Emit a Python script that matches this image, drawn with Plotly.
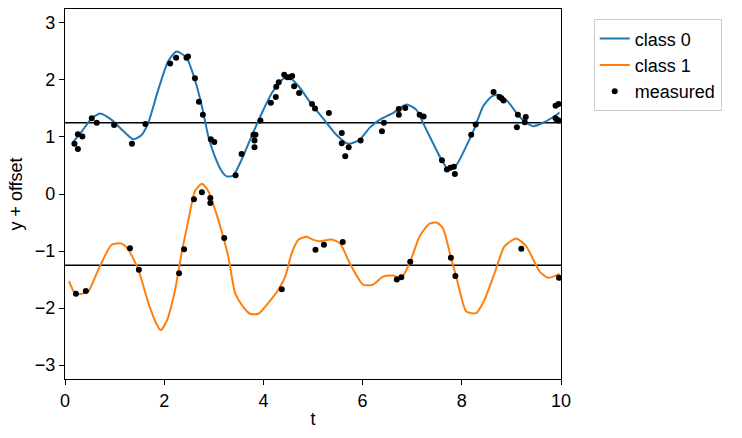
import plotly.graph_objects as go

# ---- data (raw values, offsets applied when plotting) ----
OFFSETS = [1.25, -1.25]
CLASS_NAMES = ["class 0", "class 1"]
COLORS = ["#1f77b4", "#ff7f0e"]

t_curve0 = [0.17, 0.34, 0.54, 0.71, 0.94, 1.18, 1.38, 1.55, 1.68, 1.88, 2.08, 2.25, 2.45, 2.62,
            2.76, 2.89, 3.02, 3.16, 3.26, 3.39, 3.56, 3.76, 3.97, 4.17, 4.37, 4.50, 4.71, 4.95,
            5.20, 5.47, 5.71, 5.94, 6.14, 6.34, 6.61, 6.88, 7.08, 7.25, 7.42, 7.59, 7.72, 7.89,
            8.09, 8.26, 8.43, 8.60, 8.73, 8.93, 9.13, 9.30, 9.44, 9.64, 9.91, 9.97]
y_curve0 = [-0.33, -0.15, 0.08, 0.16, 0.05, -0.15, -0.29, -0.21, 0.00, 0.58, 1.08, 1.25, 1.14, 0.75,
            0.29, -0.24, -0.59, -0.85, -0.94, -0.93, -0.65, -0.24, 0.17, 0.52, 0.75, 0.81, 0.64, 0.35,
            0.08, -0.21, -0.37, -0.30, -0.09, 0.05, 0.17, 0.32, 0.23, -0.06, -0.36, -0.65, -0.81, -0.74,
            -0.41, -0.09, 0.29, 0.46, 0.49, 0.37, 0.14, 0.00, -0.06, 0.00, 0.14, 0.18]

t_curve1 = [0.08, 0.20, 0.34, 0.47, 0.67, 0.94, 1.14, 1.28, 1.48, 1.68, 1.85, 1.93, 2.05, 2.22,
            2.35, 2.49, 2.62, 2.76, 2.89, 3.09, 3.29, 3.43, 3.56, 3.73, 3.90, 4.10, 4.30, 4.44,
            4.57, 4.71, 4.87, 5.00, 5.13, 5.37, 5.54, 5.74, 6.01, 6.21, 6.41, 6.61, 6.78, 6.95,
            7.15, 7.35, 7.49, 7.62, 7.76, 7.92, 8.09, 8.29, 8.46, 8.66, 8.86, 9.10, 9.30, 9.57,
            9.74, 9.97]
y_curve1 = [-0.28, -0.49, -0.50, -0.46, -0.08, 0.36, 0.38, 0.27, -0.08, -0.66, -1.04, -1.14, -0.98, -0.43,
            0.21, 0.80, 1.30, 1.43, 1.30, 0.80, 0.16, -0.49, -0.69, -0.85, -0.85, -0.66, -0.43, -0.20,
            0.21, 0.45, 0.50, 0.45, 0.42, 0.45, 0.39, 0.04, -0.34, -0.34, -0.20, -0.18, -0.22, 0.04,
            0.51, 0.73, 0.75, 0.65, 0.21, -0.31, -0.81, -0.84, -0.60, -0.14, 0.33, 0.47, 0.33, -0.11,
            -0.22, -0.15]

t_meas0 = [0.19, 0.26, 0.26, 0.35, 0.54, 0.64, 0.99, 1.35, 1.62, 2.12, 2.24, 2.45, 2.48, 2.62,
           2.70, 2.78, 2.94, 3.01, 3.44, 3.56, 3.80, 3.82, 3.82, 3.84, 3.94, 4.15, 4.25, 4.26,
           4.31, 4.42, 4.48, 4.53, 4.58, 4.62, 4.72, 4.98, 5.04, 5.32, 5.58, 5.58, 5.65, 5.72,
           5.96, 6.39, 6.43, 6.73, 6.73, 6.86, 7.15, 7.23, 7.60, 7.70, 7.77, 7.84, 7.86, 8.19,
           8.28, 8.64, 8.76, 8.80, 8.84, 9.11, 9.13, 9.27, 9.29, 9.89, 9.95, 9.89, 9.92, 9.95]
y_meas0 = [-0.37, -0.46, -0.20, -0.24, 0.08, 0.00, -0.04, -0.37, -0.02, 1.04, 1.14, 1.14, 1.16, 0.78,
           0.37, 0.14, -0.29, -0.34, -0.92, -0.55, -0.21, -0.31, -0.43, -0.21, 0.04, 0.35, 0.45, 0.63,
           0.71, 0.84, 0.80, 0.80, 0.82, 0.64, 0.52, 0.33, 0.25, 0.17, -0.18, -0.36, -0.59, -0.43,
           -0.31, -0.15, 0.00, 0.14, 0.24, 0.26, 0.14, 0.11, -0.66, -0.82, -0.79, -0.77, -0.90, -0.21,
           -0.03, 0.54, 0.45, 0.43, 0.39, -0.08, 0.14, 0.01, 0.10, 0.30, 0.33, 0.08, 0.05, 0.04]

t_meas1 = [0.22, 0.42, 1.31, 1.49, 2.30, 2.40, 2.60, 2.76, 2.93, 2.93, 3.21, 4.37, 5.05, 5.22,
           5.60, 6.69, 6.78, 6.96, 7.78, 7.87, 9.20, 9.96]
y_meas1 = [-0.50, -0.45, 0.30, -0.08, -0.14, 0.28, 1.16, 1.28, 1.18, 1.09, 0.48, -0.42, 0.27, 0.36,
           0.41, -0.25, -0.21, 0.06, 0.13, -0.19, 0.29, -0.22]

X_TICKS = [0, 2, 4, 6, 8, 10]
Y_TICKS = [-3, -2, -1, 0, 1, 2, 3]

FONT = "Liberation Sans, Arial, sans-serif"
FS = 18

fig = go.Figure()

curves = [(t_curve0, y_curve0), (t_curve1, y_curve1)]
meas = [(t_meas0, y_meas0), (t_meas1, y_meas1)]

for i, (tc, yc) in enumerate(curves):
    fig.add_trace(go.Scatter(
        x=tc, y=[v + OFFSETS[i] for v in yc], mode="lines", name=CLASS_NAMES[i],
        line=dict(color=COLORS[i], width=2, shape="spline", smoothing=0.6),
    ))

for i, (tm, ym) in enumerate(meas):
    fig.add_trace(go.Scatter(
        x=tm, y=[v + OFFSETS[i] for v in ym], mode="markers", name="measured",
        legendgroup="measured", showlegend=(i == 0),
        marker=dict(color="black", size=6),
    ))

for off in OFFSETS:
    fig.add_shape(type="line", xref="x domain", x0=0, x1=1, yref="y", y0=off, y1=off,
                  line=dict(color="black", width=1.3), layer="below")

axis_common = dict(
    showgrid=False, zeroline=False, showline=True, linecolor="black", linewidth=1.1,
    mirror=True, ticks="outside", ticklen=5, tickwidth=1.1, tickcolor="black",
    tickfont=dict(family=FONT, size=FS, color="black"),
)

fig.update_layout(
    width=742, height=438,
    margin=dict(l=65, r=181, t=9, b=59),
    paper_bgcolor="white", plot_bgcolor="white",
    font=dict(family=FONT, size=FS, color="black"),
    xaxis=dict(range=[0, 10], tickvals=X_TICKS,
               title=dict(text="t", font=dict(family=FONT, size=FS), standoff=2),
               **axis_common),
    yaxis=dict(range=[-3.245, 3.245], tickvals=Y_TICKS,
               title=dict(text="y + offset", font=dict(family=FONT, size=FS), standoff=7),
               **axis_common),
    legend=dict(x=1.066, y=0.972, xanchor="left", yanchor="top",
                bgcolor="white", bordercolor="#cccccc", borderwidth=1,
                font=dict(family=FONT, size=FS, color="black"),
                tracegroupgap=0),
    showlegend=True,
)

fig.write_html("out.html")
